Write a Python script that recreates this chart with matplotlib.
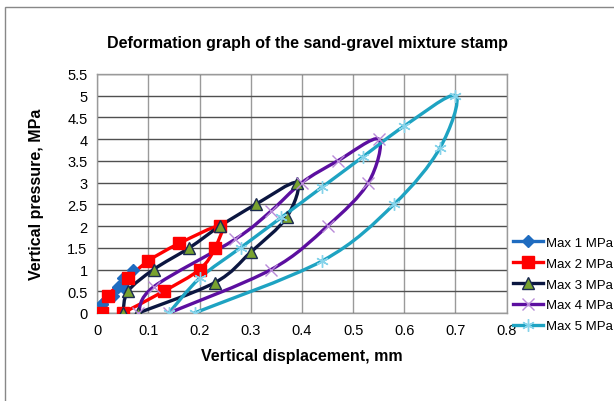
import numpy as np
import matplotlib
matplotlib.use('Agg')
import matplotlib.pyplot as plt
from matplotlib.path import Path
from matplotlib.patches import PathPatch, Rectangle
from matplotlib.lines import Line2D

plt.rcParams['font.family'] = ['Liberation Sans', 'DejaVu Sans']

# Data: loading then unloading
series_names = ['Max 1 MPa', 'Max 2 MPa', 'Max 3 MPa', 'Max 4 MPa', 'Max 5 MPa']

x1 = [0.0, 0.01, 0.03, 0.05, 0.06, 0.07, 0.05, 0.04, 0.02, 0.01, 0.0]
y1 = [0.0, 0.2, 0.4, 0.6, 0.8, 1.0, 0.8, 0.6, 0.4, 0.2, 0.0]

x2 = [0.01, 0.02, 0.06, 0.10, 0.16, 0.24, 0.23, 0.20, 0.13, 0.05]
y2 = [0.0, 0.4, 0.8, 1.2, 1.6, 2.0, 1.5, 1.0, 0.5, 0.0]

x3 = [0.05, 0.06, 0.11, 0.18, 0.24, 0.31, 0.39, 0.37, 0.30, 0.23, 0.08]
y3 = [0.0, 0.5, 1.0, 1.5, 2.0, 2.5, 3.0, 2.2, 1.4, 0.7, 0.0]

x4 = [0.08, 0.11, 0.27, 0.34, 0.40, 0.47, 0.55, 0.53, 0.45, 0.34, 0.14]
y4 = [0.0, 0.6, 1.7, 2.35, 3.0, 3.5, 4.0, 3.0, 2.0, 1.0, 0.0]

x5 = [0.14, 0.20, 0.28, 0.36, 0.44, 0.52, 0.60, 0.70, 0.67, 0.58, 0.44, 0.19]
y5 = [0.0, 0.8, 1.5, 2.2, 2.9, 3.6, 4.3, 5.0, 3.8, 2.5, 1.2, 0.0]

xs = [x1, x2, x3, x4, x5]
ys = [y1, y2, y3, y4, y5]

line_colors = ['#1f6cc0', '#ff0000', '#0b1640', '#5c0fa0', '#1ea3c2']
marker_styles = ['D', 's', '^', 'x', (6, 2, 0)]
marker_faces = ['#1f6cc0', '#ff0000', '#78a22f', '#b88ad8', '#86d3ea']
marker_edges = ['#1f6cc0', '#ff0000', '#1a2a50', '#b88ad8', '#86d3ea']
marker_sizes = [6, 8, 8, 8, 9]


def smooth_path(x, y):
    # Excel-like smoothed line: Catmull-Rom segments as cubic Beziers
    p = np.column_stack([x, y])
    n = len(p)
    verts = [p[0]]
    codes = [Path.MOVETO]
    for i in range(n - 1):
        p0 = p[i - 1] if i > 0 else p[i]
        p1 = p[i]
        p2 = p[i + 1]
        p3 = p[i + 2] if i + 2 < n else p[i + 1]
        c1 = p1 + (p2 - p0) / 6.0
        c2 = p2 - (p3 - p1) / 6.0
        verts += [c1, c2, p2]
        codes += [Path.CURVE4] * 3
    return Path(verts, codes)


fig = plt.figure(figsize=(6.14, 4.02), dpi=100)
ax = fig.add_axes([0.1585, 0.219, 0.6665, 0.5946])

for i in range(5):
    patch = PathPatch(smooth_path(xs[i], ys[i]), fill=False,
                      edgecolor=line_colors[i], linewidth=2.4, zorder=3)
    ax.add_patch(patch)
for i in range(5):
    ax.plot(xs[i], ys[i], linestyle='none', marker=marker_styles[i],
            markersize=marker_sizes[i], markerfacecolor=marker_faces[i],
            markeredgecolor=marker_edges[i], markeredgewidth=1.0, zorder=4)

ax.set_xlim(0, 0.8)
ax.set_ylim(0, 5.5)
ax.set_xticks(np.arange(0, 0.81, 0.1))
ax.set_yticks(np.arange(0, 5.51, 0.5))
ax.set_xticklabels(['0', '0.1', '0.2', '0.3', '0.4', '0.5', '0.6', '0.7', '0.8'])
ax.set_yticklabels(['0', '0.5', '1', '1.5', '2', '2.5', '3', '3.5', '4', '4.5', '5', '5.5'])
ax.tick_params(length=0, labelsize=10.5, pad=7)
ax.grid(axis='y', color='#505050', linewidth=1.0)
ax.grid(axis='x', color='#9a9a9a', linewidth=1.0)
ax.set_axisbelow(True)
for s in ax.spines.values():
    s.set_color('#9a9a9a')
    s.set_linewidth(1.0)

ax.set_xlabel('Vertical displacement, mm', fontsize=11.5, fontweight='bold', labelpad=8)
ax.set_ylabel('Vertical pressure, MPa', fontsize=11.5, fontweight='bold', labelpad=17)
fig.text(0.5, 0.893, 'Deformation graph of the sand-gravel mixture stamp',
         ha='center', va='center', fontsize=11.5, fontweight='bold')

handles = [Line2D([0], [0], color=line_colors[i], linewidth=2.4,
                  marker=marker_styles[i], markersize=marker_sizes[i],
                  markerfacecolor=marker_faces[i], markeredgecolor=marker_edges[i])
           for i in range(5)]
fig.legend(handles, series_names, loc='center left', bbox_to_anchor=(0.835, 0.29),
           frameon=False, fontsize=9.5, handlelength=2.3, handletextpad=0.2,
           labelspacing=0.65, borderaxespad=0, borderpad=0)

fig.patches.append(Rectangle((5 / 614, -0.1), 1.2, (402 - 8) / 402 + 0.1,
                             transform=fig.transFigure, fill=False,
                             edgecolor='#888888', linewidth=1.0))

fig.savefig('out.png', dpi=100)
